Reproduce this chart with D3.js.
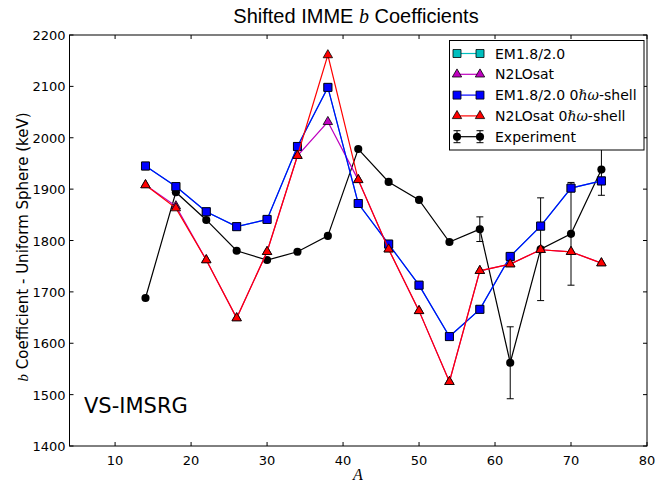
<!DOCTYPE html>
<html>
<head>
<meta charset="utf-8">
<script src="https://cdn.jsdelivr.net/npm/d3@7"></script>
<style>
  body { margin: 0; background: #fff; }
  text { font-family: "DejaVu Sans", sans-serif; }
</style>
</head>
<body>
<svg id="chart" width="658" height="484"></svg>
<script>
// mass number A
var massA = [14, 18, 22, 26, 30, 34, 38, 42, 46, 50, 54, 58, 62, 66, 70, 74];
// experiment b coefficients and errors (keV)
var expVal = [1688, 1894, 1840, 1780, 1762, 1778, 1809, 1978, 1914, 1879, 1797, 1822, 1562, 1783, 1813, 1938];
var expErr = [0, 0, 0, 0, 0, 0, 0, 0, 0, 0, 0, 24, 70, 100, 100, 50];
// VS-IMSRG results
var em18 = [1945, 1905, 1856, 1827, 1841, 1983, 2098, 1872, 1793, 1713, 1613, 1666, 1769, 1828, 1902, 1916];
var n2lo = [1908, 1867, 1762, 1649, 1778, 1965, 2031, 1918, 1783, 1663, 1525, 1741, 1754, 1782, 1778, 1756];
var em18Shell = [1945, 1905, 1856, 1827, 1841, 1983, 2098, 1872, 1793, 1713, 1613, 1666, 1769, 1828, 1902, 1916];
var n2loShell = [1908, 1863, 1762, 1649, 1778, 1965, 2161, 1918, 1783, 1663, 1525, 1741, 1754, 1782, 1778, 1756];

var xTicks = [10, 20, 30, 40, 50, 60, 70, 80];
var yTicks = [1400, 1500, 1600, 1700, 1800, 1900, 2000, 2100, 2200];

var svg = d3.select("#chart");
var L = 69.5, R = 647, T = 35, B = 446;

var x = d3.scaleLinear().domain([4, 80]).range([L, R]);
var y = d3.scaleLinear().domain([1400, 2200]).range([B, T]);

// ticks, all four sides, pointing in (classic matplotlib)
var tl = 4;
var g = svg.append("g");
xTicks.forEach(function(t) {
    g.append("line").attr("x1", x(t)).attr("x2", x(t)).attr("y1", B).attr("y2", B - tl);
    g.append("line").attr("x1", x(t)).attr("x2", x(t)).attr("y1", T).attr("y2", T + tl);
    g.append("text").attr("x", x(t)).attr("y", B + 19).attr("text-anchor", "middle")
        .attr("font-size", 13).text(t);
});
yTicks.forEach(function(t) {
    g.append("line").attr("x1", L).attr("x2", L + tl).attr("y1", y(t)).attr("y2", y(t));
    g.append("line").attr("x1", R).attr("x2", R - tl).attr("y1", y(t)).attr("y2", y(t));
    g.append("text").attr("x", L - 4).attr("y", y(t) + 5).attr("text-anchor", "end")
        .attr("font-size", 13).text(t);
});
g.selectAll("line").attr("stroke", "#000").attr("stroke-width", 1);

var plot = svg.append("g");

var line = d3.line().x(function(d) { return x(d[0]); }).y(function(d) { return y(d[1]); });

function pairs(vals) {
    return massA.map(function(a, i) { return [a, vals[i]]; });
}

var sym = {
    square: d3.symbol().type(d3.symbolSquare).size(64),
    circle: d3.symbol().type(d3.symbolCircle).size(52),
    triangle: d3.symbol().type(d3.symbolTriangle).size(38)
};

// experiment first, with error bars
var expPts = pairs(expVal);
plot.append("path").attr("d", line(expPts)).attr("fill", "none")
    .attr("stroke", "#000").attr("stroke-width", 1.2);
expPts.forEach(function(d, i) {
    var e = expErr[i];
    if (!e) return;
    var cx = x(d[0]);
    plot.append("line").attr("x1", cx).attr("x2", cx)
        .attr("y1", y(d[1] - e)).attr("y2", y(d[1] + e)).attr("stroke", "#000");
    [d[1] - e, d[1] + e].forEach(function(v) {
        plot.append("line").attr("x1", cx - 3.5).attr("x2", cx + 3.5)
            .attr("y1", y(v)).attr("y2", y(v)).attr("stroke", "#000");
    });
});
plot.selectAll(null).data(expPts).enter().append("path")
    .attr("d", sym.circle())
    .attr("transform", function(d) { return "translate(" + x(d[0]) + "," + y(d[1]) + ")"; })
    .attr("fill", "#000");

var series = [
    { vals: em18, color: "#00bfbf", shape: "square" },
    { vals: n2lo, color: "#bf00bf", shape: "triangle" },
    { vals: em18Shell, color: "#0000ff", shape: "square" },
    { vals: n2loShell, color: "#ff0000", shape: "triangle" }
];

series.forEach(function(s) {
    var pts = pairs(s.vals);
    plot.append("path").attr("d", line(pts)).attr("fill", "none")
        .attr("stroke", s.color).attr("stroke-width", 1.2);
    plot.selectAll(null).data(pts).enter().append("path")
        .attr("d", sym[s.shape]())
        .attr("transform", function(d) { return "translate(" + x(d[0]) + "," + y(d[1]) + ")"; })
        .attr("fill", s.color).attr("stroke", "#000").attr("stroke-width", 0.8);
});

// frame
svg.append("rect").attr("x", L).attr("y", T).attr("width", R - L).attr("height", B - T)
    .attr("fill", "none").attr("stroke", "#000").attr("stroke-width", 1);

// legend
var lg = svg.append("g");
lg.append("rect").attr("x", 449.5).attr("y", 40.5).attr("width", 194.5).attr("height", 109.5)
    .attr("fill", "#fff").attr("stroke", "#000");
var legendItems = [
    { label: "EM1.8/2.0", shell: false, color: "#00bfbf", shape: "square" },
    { label: "N2LOsat", shell: false, color: "#bf00bf", shape: "triangle" },
    { label: "EM1.8/2.0 0", shell: true, color: "#0000ff", shape: "square" },
    { label: "N2LOsat 0", shell: true, color: "#ff0000", shape: "triangle" },
    { label: "Experiment", shell: false, color: "#000", shape: "circle" }
];
legendItems.forEach(function(it, i) {
    var cy = 53.5 + i * 20.8;
    var x0 = 457, x1 = 480;
    lg.append("line").attr("x1", x0).attr("x2", x1).attr("y1", cy).attr("y2", cy)
        .attr("stroke", it.color).attr("stroke-width", 1.2);
    if (it.shape === "circle") {
        [x0, x1].forEach(function(px) {
            lg.append("line").attr("x1", px).attr("x2", px).attr("y1", cy - 6).attr("y2", cy + 6).attr("stroke", "#000");
            lg.append("line").attr("x1", px - 3.5).attr("x2", px + 3.5).attr("y1", cy - 6).attr("y2", cy - 6).attr("stroke", "#000");
            lg.append("line").attr("x1", px - 3.5).attr("x2", px + 3.5).attr("y1", cy + 6).attr("y2", cy + 6).attr("stroke", "#000");
        });
    }
    [x0, x1].forEach(function(px) {
        var m = lg.append("path").attr("d", sym[it.shape]())
            .attr("transform", "translate(" + px + "," + cy + ")").attr("fill", it.color);
        if (it.shape !== "circle") m.attr("stroke", "#000").attr("stroke-width", 0.8);
    });
    var t = lg.append("text").attr("x", 495).attr("y", cy + 5).attr("font-size", 14).text(it.label);
    if (it.shell) {
        t.append("tspan").attr("font-family", "DejaVu Serif").attr("font-style", "italic").text("ℏω");
        t.append("tspan").text("-shell");
    }
});

// title
var title = svg.append("text").attr("x", 356).attr("y", 23).attr("text-anchor", "middle")
    .attr("font-size", 20)
    .style("font-family", "Liberation Sans, Arial, sans-serif");
title.append("tspan").text("Shifted IMME ");
title.append("tspan").style("font-family", "Liberation Serif")
    .attr("font-style", "italic").text("b");
title.append("tspan").text(" Coefficients");

// axis labels
svg.append("text").attr("x", 358).attr("y", 480).attr("text-anchor", "middle")
    .attr("font-size", 16).attr("font-style", "italic")
    .style("font-family", "Liberation Serif, serif").text("A");

var yl = svg.append("text").attr("transform", "translate(28,247) rotate(-90)")
    .attr("text-anchor", "middle").attr("font-size", 15);
yl.append("tspan").style("font-family", "Liberation Serif, serif").attr("font-style", "italic").text("b");
yl.append("tspan").text(" Coefficient - Uniform Sphere (keV)");

svg.append("text").attr("x", 84).attr("y", 413).attr("font-size", 21).text("VS-IMSRG");
</script>
</body>
</html>
